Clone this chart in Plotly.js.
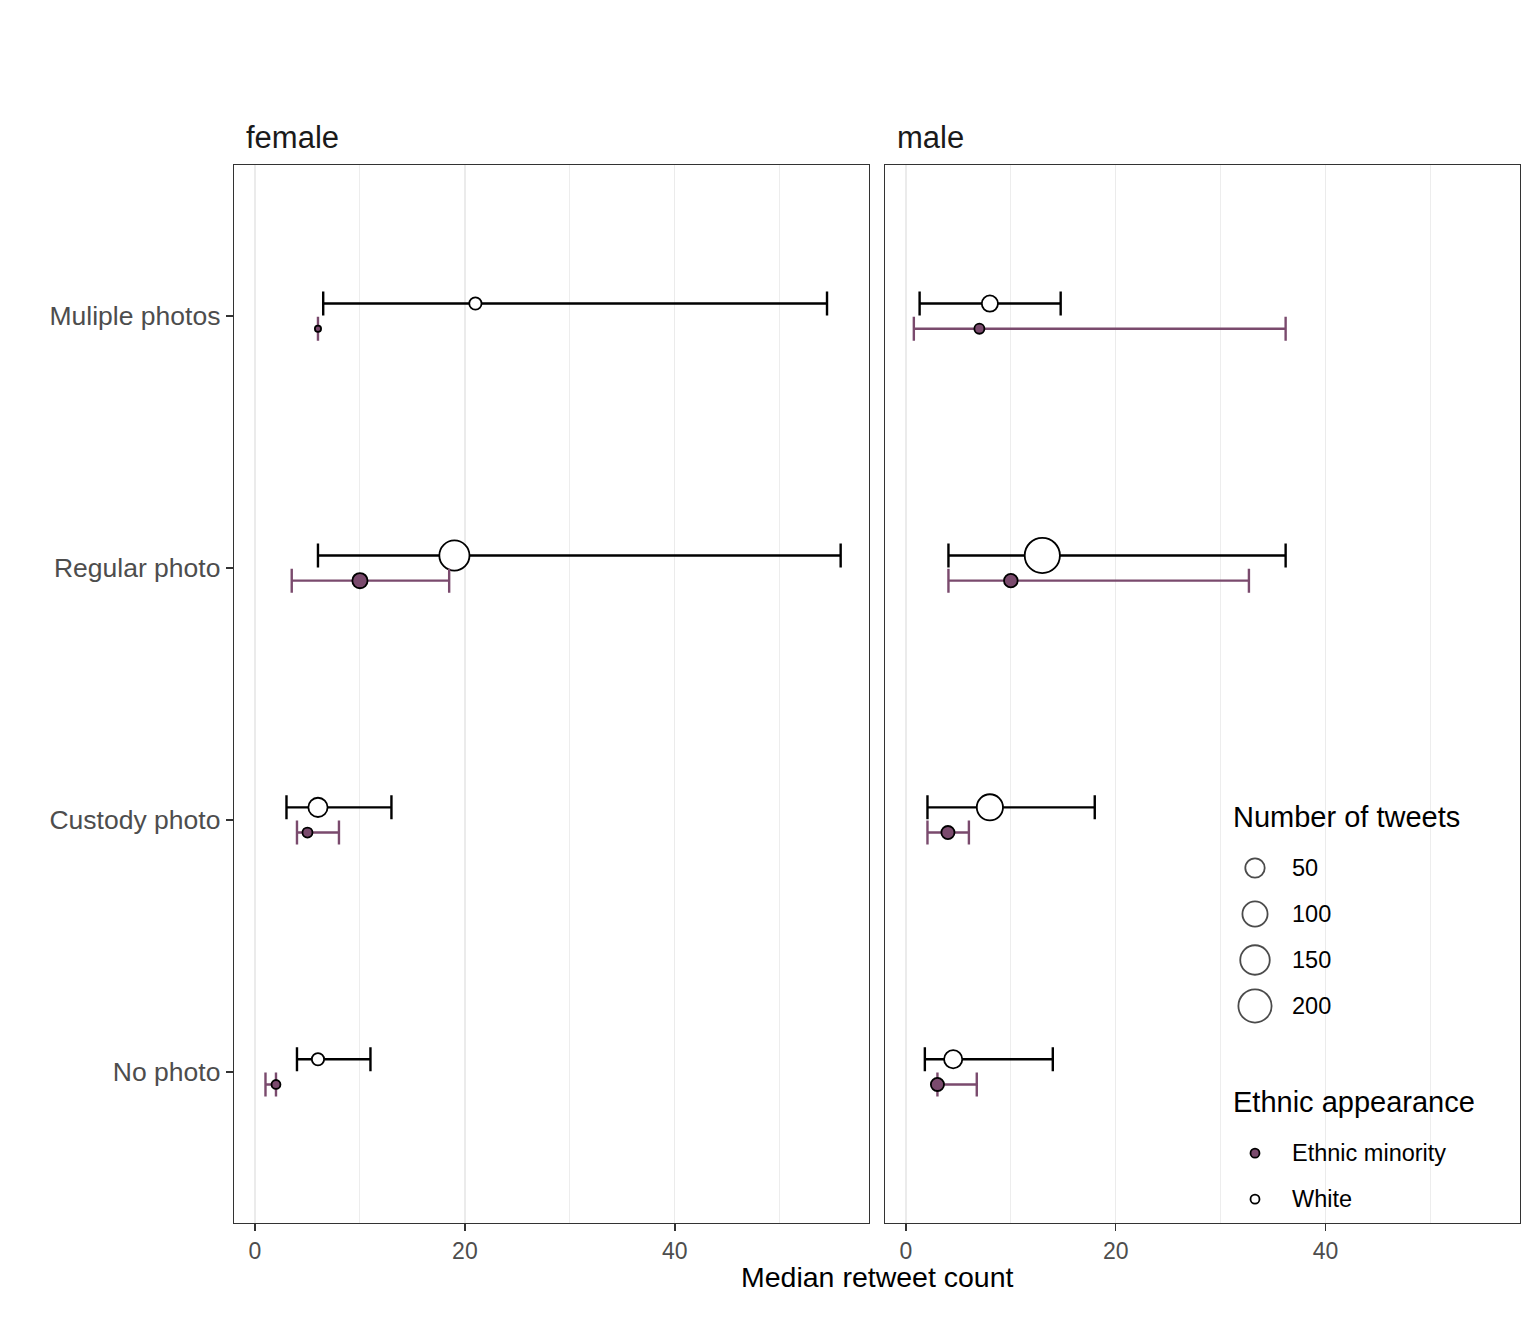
<!DOCTYPE html>
<html>
<head>
<meta charset="utf-8">
<script src="https://cdn.plot.ly/plotly-3.0.1.min.js"></script>
<style>html,body{margin:0;padding:0;background:#fff;}</style>
</head>
<body>
<div id="chart" style="width:1536px;height:1344px;"></div>
<script>
// ---- Data ----
const categories = ["No photo", "Custody photo", "Regular photo", "Muliple photos"];
const facets = ["female", "male"];
const groups = ["Ethnic minority", "White"];

// female
const femaleWhiteMedian = [6, 6, 19, 21];
const femaleWhiteLow    = [4, 3, 6, 6.5];
const femaleWhiteHigh   = [11, 13, 55.8, 54.5];
const femaleWhiteN      = [13, 49, 158, 13];

const femaleMinorityMedian = [2, 5, 10, 6];
const femaleMinorityLow    = [1, 4, 3.5, 6];
const femaleMinorityHigh   = [2, 8, 18.5, 6];
const femaleMinorityN      = [5, 7, 25, 3];

// male
const maleWhiteMedian = [4.5, 8, 13, 8];
const maleWhiteLow    = [1.8, 2.05, 4.05, 1.3];
const maleWhiteHigh   = [14, 18, 36.2, 14.75];
const maleWhiteN      = [42, 111, 230, 30];

const maleMinorityMedian = [3, 4, 10, 7];
const maleMinorityLow    = [3, 2.05, 4.05, 0.75];
const maleMinorityHigh   = [6.75, 6, 32.7, 36.2];
const maleMinorityN      = [16, 16, 18, 7];

const legendSizes = [50, 100, 150, 200];
const xTicks = [0, 20, 40];

// ---- Styles ----
const PURPLE = "#7a4a6d";
const FONT = "Liberation Sans, Arial, Helvetica, sans-serif";
const DODGE = 0.05;
const LINEW = 1.8;

const allN = [].concat(femaleWhiteN, femaleMinorityN, maleWhiteN, maleMinorityN);
const nMin = Math.min(...allN), nMax = Math.max(...allN);
const dMin = 8, dMax = 37;
function sizeOf(n) {
  const t = Math.max(0, (n - nMin) / (nMax - nMin));
  return dMin + (dMax - dMin) * Math.sqrt(t) - LINEW;
}

function series(median, lo, hi, n, offset, fill, errColor, xa, ya) {
  const ypos = categories.map((c, i) => i + 1 + offset);
  return {
    type: "scatter", mode: "markers",
    x: median, y: ypos, xaxis: xa, yaxis: ya,
    marker: { size: n.map(sizeOf), color: fill, line: { color: "#000", width: LINEW }, opacity: 1 },
    error_x: {
      type: "data", symmetric: false,
      array: median.map((m, i) => hi[i] - m),
      arrayminus: median.map((m, i) => m - lo[i]),
      color: errColor, thickness: 2.4, width: 12
    },
    showlegend: false, hoverinfo: "x+y", cliponaxis: false
  };
}

const traces = [
  series(femaleWhiteMedian, femaleWhiteLow, femaleWhiteHigh, femaleWhiteN, DODGE, "#ffffff", "#000000", "x", "y"),
  series(femaleMinorityMedian, femaleMinorityLow, femaleMinorityHigh, femaleMinorityN, -DODGE, PURPLE, PURPLE, "x", "y"),
  series(maleWhiteMedian, maleWhiteLow, maleWhiteHigh, maleWhiteN, DODGE, "#ffffff", "#000000", "x2", "y2"),
  series(maleMinorityMedian, maleMinorityLow, maleMinorityHigh, maleMinorityN, -DODGE, PURPLE, PURPLE, "x2", "y2"),
];

// ---- Legend (drawn on an auxiliary axis) ----
const sizeRows = legendSizes.map((_, i) => i);
const ethnicRows = groups.map((_, i) => sizeRows.length + 2.2 + i);
traces.push({
  type: "scatter", mode: "markers", xaxis: "x3", yaxis: "y3",
  x: legendSizes.map(() => 0), y: sizeRows,
  marker: { size: legendSizes.map(sizeOf), color: "#fff", line: { color: "#000", width: LINEW } },
  showlegend: false, hoverinfo: "skip", cliponaxis: false
});
traces.push({
  type: "scatter", mode: "markers", xaxis: "x3", yaxis: "y3",
  x: groups.map(() => 0), y: ethnicRows,
  marker: { size: 9, color: [PURPLE, "#ffffff"], line: { color: "#000", width: LINEW } },
  showlegend: false, hoverinfo: "skip", cliponaxis: false
});

const W = 1536, H = 1344;
const px = v => v / W, py = v => 1 - v / H;

const xCommon = {
  range: [-2.0, 58.5], tickvals: xTicks, ticktext: xTicks.map(String),
  showgrid: true, gridcolor: "#ebebeb", gridwidth: 1.3,
  minor: { tick0: 10, dtick: 20, showgrid: true, gridcolor: "#ebebeb", gridwidth: 0.9, ticks: "" },
  zeroline: false, showline: true, mirror: true, linecolor: "#333333", linewidth: 1.3,
  ticks: "outside", ticklen: 7, tickwidth: 1.4, tickcolor: "#333333",
  tickfont: { family: FONT, size: 23, color: "#4d4d4d" }, fixedrange: true
};

const annotations = [
  { text: "female", xref: "paper", yref: "paper", x: px(244), y: py(138), xanchor: "left", yanchor: "middle", showarrow: false, font: { family: FONT, size: 31, color: "#1a1a1a" } },
  { text: "male", xref: "paper", yref: "paper", x: px(895), y: py(138), xanchor: "left", yanchor: "middle", showarrow: false, font: { family: FONT, size: 31, color: "#1a1a1a" } },
  { text: "Median retweet count", xref: "paper", yref: "paper", x: px(877), y: py(1277), xanchor: "center", yanchor: "middle", showarrow: false, font: { family: FONT, size: 28.5, color: "#000" } },
  { text: "Number of tweets", xref: "paper", yref: "paper", x: px(1231), y: py(817), xanchor: "left", yanchor: "middle", showarrow: false, font: { family: FONT, size: 29, color: "#000" } },
  { text: "Ethnic appearance", xref: "paper", yref: "paper", x: px(1231), y: py(1102), xanchor: "left", yanchor: "middle", showarrow: false, font: { family: FONT, size: 29, color: "#000" } },
];
legendSizes.forEach((s, i) => annotations.push({
  text: String(s), xref: "paper", yref: "y3", x: px(1290), y: sizeRows[i], xanchor: "left", yanchor: "middle",
  showarrow: false, font: { family: FONT, size: 23.5, color: "#000" }
}));
groups.forEach((g, i) => annotations.push({
  text: g, xref: "paper", yref: "y3", x: px(1290), y: ethnicRows[i], xanchor: "left", yanchor: "middle",
  showarrow: false, font: { family: FONT, size: 23.5, color: "#000" }
}));

const layout = {
  width: W, height: H, margin: { l: 0, r: 0, t: 0, b: 0 },
  paper_bgcolor: "#fff", plot_bgcolor: "rgba(0,0,0,0)",
  font: { family: FONT },
  showlegend: false,
  xaxis: Object.assign({}, xCommon, { domain: [px(234), px(869)], anchor: "y" }),
  xaxis2: Object.assign({}, xCommon, { domain: [px(885), px(1519.5)], anchor: "y2" }),
  yaxis: {
    domain: [py(1223), py(165)], range: [0.4, 4.6],
    tickvals: categories.map((_, i) => i + 1), ticktext: categories,
    showgrid: false, zeroline: false, showline: true, mirror: true, linecolor: "#333333", linewidth: 1.3,
    ticks: "outside", ticklen: 7, tickwidth: 1.4, tickcolor: "#333333",
    tickfont: { family: FONT, size: 26.5, color: "#4d4d4d" }, anchor: "x", fixedrange: true
  },
  yaxis2: {
    domain: [py(1223), py(165)], range: [0.4, 4.6],
    showgrid: false, zeroline: false, showline: true, mirror: true, linecolor: "#333333", linewidth: 1.3,
    ticks: "", showticklabels: false, anchor: "x2", fixedrange: true
  },
  xaxis3: { domain: [px(1225), px(1285)], range: [-1, 1], visible: false, anchor: "y3", fixedrange: true },
  yaxis3: { domain: [py(1222), py(845)], range: [7.696, -0.5], visible: false, anchor: "x3", fixedrange: true },
  annotations: annotations
};

Plotly.newPlot("chart", traces, layout, { staticPlot: true, displayModeBar: false });
</script>
</body>
</html>
